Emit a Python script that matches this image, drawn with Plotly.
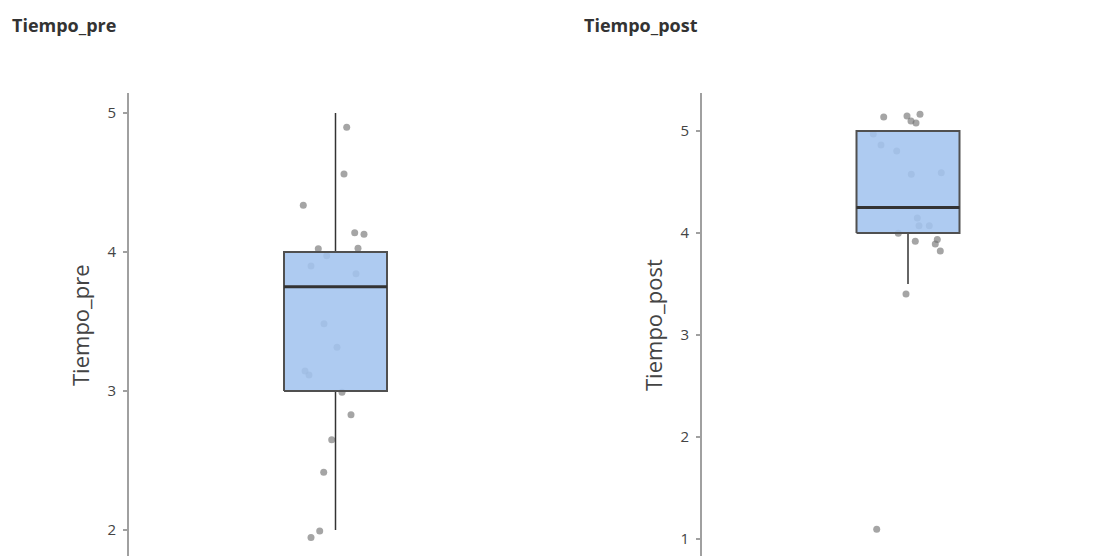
import plotly.graph_objects as go

W, H = 1102, 556
OFF = 8  # page body margin in the browser

# ---- data ----
variables = ["Tiempo_pre", "Tiempo_post"]

# box statistics (q1, median, q3, lower whisker, upper whisker)
pre_stats = dict(q1=3.0, median=3.75, q3=4.0, lo=2.0, hi=5.0)
post_stats = dict(q1=4.0, median=4.25, q3=5.0, lo=3.5, hi=5.0)

# jittered observations (value, horizontal jitter offset)
pre_values = [4.897, 4.561, 4.336, 4.139, 4.127, 4.024, 4.027, 3.973, 3.899, 3.844,
              3.484, 3.314, 3.144, 3.115, 2.991, 2.830, 2.650, 2.415, 1.993, 1.947]
pre_jitter = [0.112, 0.085, -0.322, 0.192, 0.285, -0.172, 0.225, -0.088, -0.245, 0.205,
              -0.115, 0.015, -0.305, -0.265, 0.065, 0.155, -0.038, -0.118, -0.158, -0.245]

post_values = [5.137, 5.147, 5.164, 5.098, 5.078, 4.971, 4.863, 4.804, 4.575, 4.591,
               4.147, 4.072, 4.072, 3.997, 3.919, 3.935, 3.892, 3.824, 3.402, 1.095]
post_jitter = [-0.243, -0.010, 0.120, 0.030, 0.080, -0.347, -0.270, -0.113, 0.033, 0.333,
               0.093, 0.110, 0.213, -0.097, 0.073, 0.293, 0.273, 0.323, -0.020, -0.313]

# ---- style ----
FONT = "Segoe UI, Open Sans, Arial, sans-serif"
BOX_HALF = 0.515
POINT_COLOR = "rgba(110,110,110,0.62)"
BOX_FILL = "rgba(163,196,239,0.88)"
BOX_LINE = "#505050"
MED_LINE = "#333333"
AXIS_COLOR = "#a0a0a0"

fig = go.Figure()

def add_panel(stats, values, jitter, xa, ya):
    # points (drawn beneath the box)
    fig.add_trace(go.Scatter(
        x=jitter, y=values, mode="markers", xaxis=xa, yaxis=ya,
        marker=dict(size=7, color=POINT_COLOR, line=dict(width=0)),
        showlegend=False, hoverinfo="y"))
    # whiskers
    fig.add_trace(go.Scatter(
        x=[0, 0, None, 0, 0], y=[stats["q3"], stats["hi"], None, stats["q1"], stats["lo"]],
        mode="lines", xaxis=xa, yaxis=ya, line=dict(color=MED_LINE, width=1.5),
        showlegend=False, hoverinfo="skip"))
    # box
    fig.add_trace(go.Scatter(
        x=[-BOX_HALF, BOX_HALF, BOX_HALF, -BOX_HALF, -BOX_HALF],
        y=[stats["q1"], stats["q1"], stats["q3"], stats["q3"], stats["q1"]],
        mode="lines", fill="toself", fillcolor=BOX_FILL, xaxis=xa, yaxis=ya,
        line=dict(color=BOX_LINE, width=2), showlegend=False, hoverinfo="skip"))
    # median
    fig.add_trace(go.Scatter(
        x=[-BOX_HALF, BOX_HALF], y=[stats["median"], stats["median"]],
        mode="lines", xaxis=xa, yaxis=ya, line=dict(color=MED_LINE, width=3),
        showlegend=False, hoverinfo="skip"))

add_panel(pre_stats, pre_values, pre_jitter, "x", "y")
add_panel(post_stats, post_values, post_jitter, "x2", "y2")

def px(x):
    return (x - OFF) / W

def py(y):
    return 1 - (y - OFF) / H

top_dom = py(93)
yax_common = dict(showline=True, linecolor=AXIS_COLOR, linewidth=2, showgrid=False,
                  zeroline=False, ticks="outside", ticklen=4, tickwidth=1.5,
                  tickcolor=AXIS_COLOR, tickfont=dict(family=FONT, size=15, color="#444444"),
                  dtick=1, ticklabelstandoff=4)

fig.update_layout(
    width=W, height=H, margin=dict(l=0, r=0, t=0, b=0),
    paper_bgcolor="white", plot_bgcolor="white", showlegend=False,
    xaxis=dict(domain=[px(129), px(540)], range=[-2.065, 2.045], visible=False),
    xaxis2=dict(domain=[px(702), 1.0], range=[-2.06, 2.02], visible=False),
    yaxis=dict(domain=[0, top_dom], range=[1.7555, 5.144], anchor="x", **yax_common),
    yaxis2=dict(domain=[0, top_dom], range=[0.7548, 5.3725], anchor="x2", **yax_common),
    annotations=[
        dict(text="<b>" + variables[0] + "</b>", xref="paper", yref="paper",
             x=px(10), y=py(25), xanchor="left", yanchor="middle", showarrow=False,
             font=dict(family=FONT, size=18, color="#333333")),
        dict(text="<b>" + variables[1] + "</b>", xref="paper", yref="paper",
             x=px(582), y=py(25), xanchor="left", yanchor="middle", showarrow=False,
             font=dict(family=FONT, size=18, color="#333333")),
        dict(text=variables[0], xref="paper", yref="paper", textangle=-90,
             x=px(80), y=py(325), xanchor="center", yanchor="middle", showarrow=False,
             font=dict(family=FONT, size=22, color="#444444")),
        dict(text=variables[1], xref="paper", yref="paper", textangle=-90,
             x=px(653), y=py(325), xanchor="center", yanchor="middle", showarrow=False,
             font=dict(family=FONT, size=22, color="#444444")),
    ],
)

fig.write_html("out.html")
